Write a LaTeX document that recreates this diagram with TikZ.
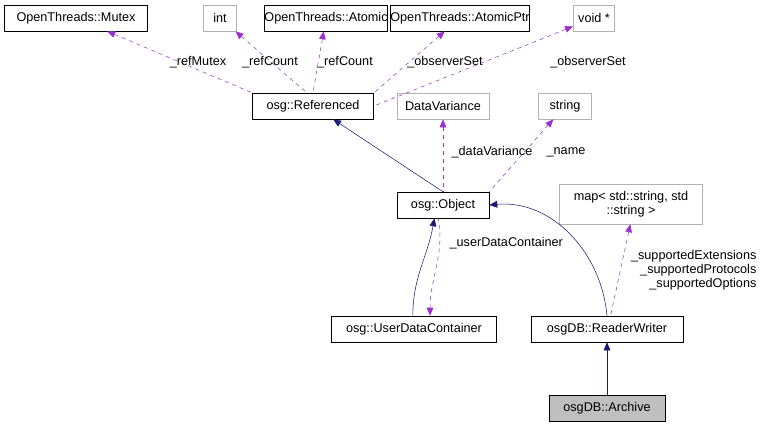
\documentclass[tikz,border=0pt]{standalone}
\usepackage{fontspec}
\setmainfont{Liberation Sans}
\usetikzlibrary{arrows.meta,positioning}
\begin{document}
\begin{tikzpicture}[x=0.75pt,y=-0.75pt,
	box/.style  = {draw, rectangle, inner sep=0pt, minimum height=19.5pt, font=\fontsize{9.5}{10.5}\selectfont},
	ext/.style  = {box, draw=black!30},
	inh/.style  = {draw={rgb,255:red,25;green,25;blue,112}, {Triangle[length=6pt,width=5pt]}-},
	dep/.style  = {draw={rgb,255:red,153;green,50;blue,204}, dashed, {Triangle[length=6pt,width=5pt]}-},
	lbl/.style  = {font=\fontsize{9.5}{10.5}\selectfont, inner sep=1pt, align=right},
	>=latex]
	\useasboundingbox (0,0) rectangle (763,425);

	% top row
	\node[box, minimum width=107pt] (mutex) at (76,18) {OpenThreads::Mutex};
	\node[ext, minimum width=25pt] (int) at (220,18) {int};
	\node[box, minimum width=91pt] (atomic) at (326,18) {OpenThreads::Atomic};
	\node[box, minimum width=90pt] (atomicptr) at (460,18) {OpenThreads::AtomicPtr};
	\node[ext, minimum width=31pt] (voidp) at (594,18) {void *};

	% second row
	\node[box, minimum width=91pt] (ref) at (313,106) {osg::Referenced};
	\node[ext, minimum width=69pt] (datavar) at (443,106) {DataVariance};
	\node[ext, minimum width=40pt] (string) at (565,106) {string};

	% object level
	\node[box, minimum width=69pt] (obj) at (443,205) {osg::Object};
	\node[ext, minimum width=107pt, minimum height=30pt, align=center] (map) at (631,204) {map< std::string, std\\::string >};

	% bottom
	\node[box, minimum width=124pt] (udc) at (414,329) {osg::UserDataContainer};
	\node[box, minimum width=114pt] (rw) at (607,329) {osgDB::ReaderWriter};
	\node[box, minimum width=87pt, fill=black!25] (archive) at (607,408) {osgDB::Archive};

	% members of osg::Referenced
	\draw[dep] (mutex) -- (ref.north west);
	\draw[dep] (int) -- (ref.115);
	\draw[dep] (atomic) -- (ref.north);
	\draw[dep] (atomicptr) -- (ref.north east);
	\draw[dep] (voidp) -- (ref.east);
	\node[lbl] (l1) at (198,62) {\_refMutex};
	\node[lbl] (l2) at (270,62) {\_refCount};
	\node[lbl] (l3) at (345,62) {\_refCount};
	\node[lbl] (l4) at (445,62) {\_observerSet};
	\node[lbl] (l5) at (588,62) {\_observerSet};

	% members of osg::Object
	\draw[dep] (datavar) -- (obj.north);
	\draw[dep] (string) -- (obj.north east);
	\node[lbl] (l6) at (492,152) {\_dataVariance};
	\node[lbl] (l7) at (566,152) {\_name};
	\draw[dep] (udc.north) ++(16,0) coordinate (udcin) (udcin) to[out=90,in=-80] (obj.250);
	\node[lbl, anchor=west] (l8) at (448,243) {\_userDataContainer};
	\draw[dep] (map.268) -- (rw.75);
	\node[lbl, anchor=east] (l9) at (758,270) {\_supportedExtensions\\\_supportedProtocols\\\_supportedOptions};

	% inheritance
	\draw[inh] (ref) -- (obj.north);
	\draw[inh] (obj.237) to[out=-100,in=90] (udc.95);
	\draw[inh] (obj.east) to[out=5,in=95] (rw.north);
	\draw[inh] (rw) -- (archive);
\end{tikzpicture}
\end{document}
